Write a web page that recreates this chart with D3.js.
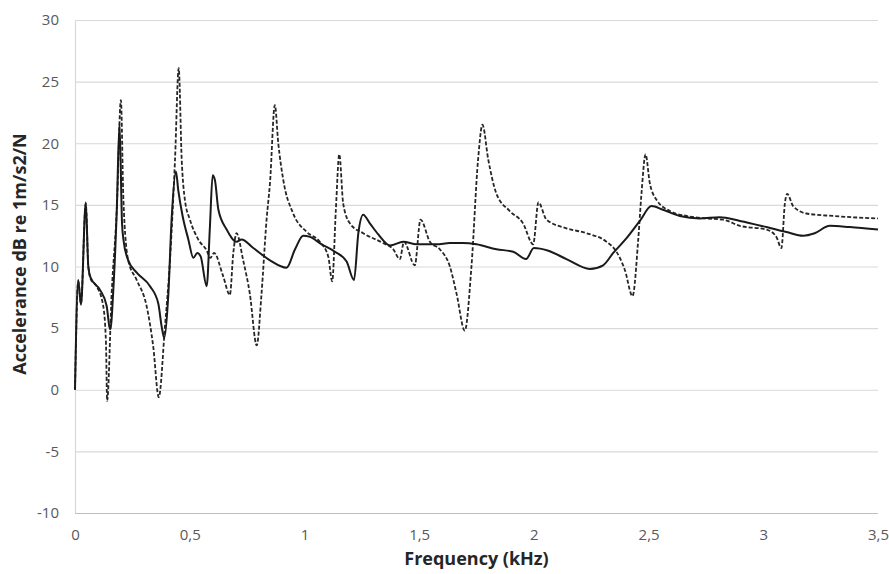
<!DOCTYPE html>
<html>
<head>
<meta charset="utf-8">
<script src="https://cdn.jsdelivr.net/npm/d3@7"></script>
<style>
  body { margin: 0; background: #fff; }
  text { font-family: "Open Sans", Lato, sans-serif; }
</style>
</head>
<body>
<script>
// solid curve
var solidFreq = [0, 0.014, 0.026, 0.047, 0.058, 0.068, 0.109, 0.138, 0.150, 0.154, 0.167, 0.182, 0.194, 0.205, 0.211,
  0.232, 0.269, 0.327, 0.363, 0.378, 0.389, 0.407, 0.421, 0.440, 0.450, 0.469, 0.494, 0.516, 0.533, 0.548,
  0.574, 0.588, 0.600, 0.610, 0.625, 0.661, 0.704, 0.726, 0.777, 0.850, 0.922, 0.959, 0.995, 1.024, 1.075,
  1.133, 1.184, 1.216, 1.235, 1.256, 1.285, 1.322, 1.373, 1.431, 1.489, 1.576, 1.634, 1.690, 1.750, 1.837,
  1.910, 1.966, 2.000, 2.060, 2.142, 2.244, 2.302, 2.346, 2.404, 2.462, 2.513, 2.563, 2.636, 2.723, 2.810,
  2.898, 3.014, 3.101, 3.174, 3.224, 3.290, 3.377, 3.500];
var solidDb = [0, 8.9, 6.9, 15.2, 10.0, 9.1, 8.1, 6.8, 5.1, 4.9, 8.1, 14.5, 21.6, 13.5, 12.2,
  10.5, 9.5, 8.4, 7.0, 5.1, 4.2, 7.8, 13.8, 17.7, 16.2, 14.1, 12.2, 10.7, 11.1, 10.8,
  8.4, 13.2, 17.4, 17.0, 14.6, 13.0, 12.0, 12.2, 11.5, 10.5, 9.9, 11.4, 12.5, 12.4, 11.8,
  11.2, 10.4, 8.9, 12.7, 14.2, 13.5, 12.6, 11.7, 12.0, 11.8, 11.8, 11.9, 11.9, 11.8, 11.4,
  11.2, 10.6, 11.5, 11.3, 10.6, 9.8, 10.1, 11.1, 12.3, 13.7, 14.9, 14.6, 14.1, 13.9, 14.0,
  13.7, 13.2, 12.8, 12.5, 12.7, 13.3, 13.2, 13.0];

// dashed curve
var dashedFreq = [0, 0.014, 0.026, 0.047, 0.058, 0.068, 0.094, 0.123, 0.135, 0.140, 0.160, 0.182, 0.200, 0.211,
  0.232, 0.269, 0.312, 0.341, 0.365, 0.392, 0.414, 0.436, 0.452, 0.465, 0.479, 0.501, 0.537, 0.574, 0.590,
  0.606, 0.646, 0.675, 0.690, 0.704, 0.733, 0.762, 0.792, 0.813, 0.835, 0.850, 0.871, 0.886, 0.908, 0.951,
  1.010, 1.067, 1.104, 1.121, 1.137, 1.152, 1.169, 1.198, 1.256, 1.343, 1.387, 1.416, 1.434, 1.481, 1.506,
  1.547, 1.590, 1.634, 1.663, 1.699, 1.728, 1.757, 1.776, 1.801, 1.837, 1.895, 1.953, 1.997, 2.020, 2.055,
  2.142, 2.230, 2.317, 2.360, 2.397, 2.430, 2.455, 2.469, 2.487, 2.505, 2.535, 2.593, 2.665, 2.752, 2.825,
  2.898, 3.014, 3.057, 3.079, 3.094, 3.104, 3.130, 3.188, 3.304, 3.500];
var dashedDb = [0, 8.8, 7.0, 15.1, 10.0, 9.0, 8.4, 6.8, 3.8, -0.9, 7.9, 14.6, 23.5, 15.4,
  10.5, 8.9, 6.8, 3.5, -0.6, 5.1, 10.5, 18.7, 26.1, 18.7, 15.4, 13.8, 12.2, 11.3, 10.7,
  11.1, 9.2, 7.7, 11.1, 12.7, 10.5, 7.8, 3.6, 7.8, 13.8, 16.8, 23.1, 20.0, 17.0, 14.3,
  12.8, 12.0, 10.8, 8.8, 14.6, 19.1, 15.1, 13.5, 12.7, 11.9, 11.4, 10.6, 12.0, 10.1, 13.8,
  12.0, 11.4, 10.0, 7.8, 4.8, 10.0, 18.7, 21.5, 18.7, 15.9, 14.5, 13.5, 11.8, 15.2, 13.8,
  13.1, 12.7, 12.0, 11.2, 9.7, 7.6, 12.2, 15.9, 19.1, 16.8, 15.4, 14.5, 14.1, 13.9, 13.8,
  13.3, 13.0, 12.4, 11.5, 15.1, 15.9, 14.9, 14.3, 14.1, 13.9];

var xTicks = [0, 0.5, 1, 1.5, 2, 2.5, 3, 3.5];
var yTicks = [-10, -5, 0, 5, 10, 15, 20, 25, 30];

var width = 889, height = 574;
var plotLeft = 75, plotRight = 878, plotTop = 20, plotBottom = 513;

var svg = d3.select('body').append('svg').attr('width', width).attr('height', height);

var x = d3.scaleLinear().domain([0, 3.5]).range([plotLeft, plotRight]);
var y = d3.scaleLinear().domain([-10, 30]).range([plotBottom, plotTop]);

// grid + y labels
svg.append('g')
  .attr('transform', 'translate(' + plotLeft + ',0)')
  .call(d3.axisLeft(y).tickValues(yTicks).tickSize(-(plotRight - plotLeft)).tickFormat(function (d) { return d; }))
  .call(function (g) {
    g.select('.domain').attr('stroke', '#d9d9d9').attr('stroke-width', 1.2);
    g.selectAll('.tick line').attr('stroke', function (d) { return d === -10 ? '#bfbfbf' : '#d9d9d9'; }).attr('stroke-width', 1.2);
    g.selectAll('.tick text').attr('x', -16).attr('fill', '#595959').style('font-size', '15px');
  });

svg.append('g')
  .attr('transform', 'translate(0,' + plotBottom + ')')
  .call(d3.axisBottom(x).tickValues(xTicks).tickSize(0).tickFormat(function (d) { return String(d).replace('.', ','); }))
  .call(function (g) {
    g.select('.domain').remove();
    g.selectAll('.tick text').attr('y', 16).attr('fill', '#595959').style('font-size', '15px');
  });

var line = d3.line()
  .x(function (d) { return x(d[0]); })
  .y(function (d) { return y(d[1]); })
  .curve(d3.curveMonotoneX);

svg.append('path')
  .datum(dashedFreq.map(function (f, i) { return [f, dashedDb[i]]; }))
  .attr('d', line)
  .attr('fill', 'none')
  .attr('stroke', '#262626')
  .attr('stroke-width', 1.8)
  .attr('stroke-dasharray', '4,2');

svg.append('path')
  .datum(solidFreq.map(function (f, i) { return [f, solidDb[i]]; }))
  .attr('d', line)
  .attr('fill', 'none')
  .attr('stroke', '#1a1a1a')
  .attr('stroke-width', 2);

// axis titles
svg.append('text')
  .attr('x', (plotLeft + plotRight) / 2)
  .attr('y', 565)
  .attr('text-anchor', 'middle')
  .attr('font-weight', 'bold')
  .attr('fill', '#262626')
  .style('font-size', '18px')
  .text('Frequency (kHz)');

svg.append('text')
  .attr('transform', 'translate(21,254) rotate(-90)')
  .attr('text-anchor', 'middle')
  .attr('dominant-baseline', 'middle')
  .attr('font-weight', 'bold')
  .attr('fill', '#262626')
  .style('font-size', '18px')
  .text('Accelerance dB re 1m/s2/N');
</script>
</body>
</html>
